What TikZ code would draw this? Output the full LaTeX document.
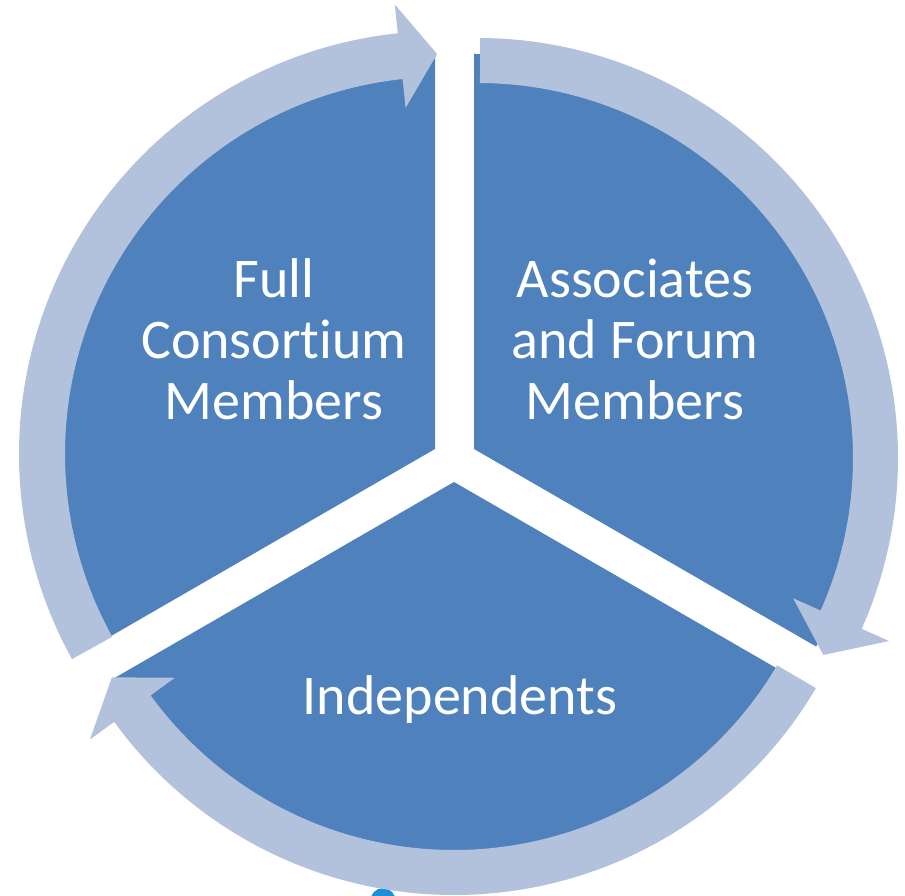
\documentclass[tikz,border=0pt]{standalone}
\usepackage{fontspec}
\setmainfont{Carlito}[Ligatures={NoCommon}]
\definecolor{segblue}{HTML}{4F81BD}
\definecolor{ringblue}{HTML}{B3C2DC}
\definecolor{blobblue}{HTML}{1E8FD6}
\begin{document}
\begin{tikzpicture}[x=1pt,y=1pt,
  seg/.style={fill=segblue},
  ring/.style={fill=ringblue},
  lbl/.style={text=white, font=\fontsize{56}{61}\selectfont, align=center, inner sep=0pt}]
\useasboundingbox (0,0) rectangle (905,896);
\clip (0,0) rectangle (905,896);
% small cyan blob at the bottom edge
\fill[blobblue] (383,-6) ellipse [x radius=13, y radius=14];
% sectors
\coordinate (apexL) at (435,447);
\coordinate (apexR) at (474,447);
\coordinate (apexB) at (454,414);
\fill[seg] (apexL) -- +(90:395) arc[start angle=90,end angle=210,radius=395] -- cycle;
\fill[seg] (apexR) -- +(90:395) arc[start angle=90,end angle=-30,radius=395] -- cycle;
\fill[seg] (apexB) -- +(210:395) arc[start angle=210,end angle=330,radius=395] -- cycle;
% arc arrows
\begin{scope}[shift={(442,442)}]
\fill[ring] (209:377) arc[start angle=209,end angle=96,radius=377] -- (96:348) -- (90.7:400) -- (96:452) -- (96:423) arc[start angle=96,end angle=209,radius=423] -- cycle;
\end{scope}
\begin{scope}[shift={(478,438)}]
\fill[ring] (89.7:375) arc[start angle=89.7,end angle=-24,radius=375] -- (-24:345) -- (-29.7:397.5) -- (-24:450) -- (-24:420) arc[start angle=-24,end angle=89.7,radius=420] -- cycle;
\end{scope}
\begin{scope}[shift={(454,421)}]
\fill[ring] (-30.5:375) arc[start angle=-30.5,end angle=-144,radius=375] -- (-144:345) -- (-149.4:397.5) -- (-144:450) -- (-144:420) arc[start angle=-144,end angle=-30.5,radius=420] -- cycle;
\end{scope}
% labels
\node[lbl] (full) at (274,557) {Full\\Consortium\\Members};
\node[lbl] (assoc) at (635,557) {Associates\\and Forum\\Members};
\node[lbl, anchor=base] (indep) at (460,181) {Independents};
\end{tikzpicture}
\end{document}
